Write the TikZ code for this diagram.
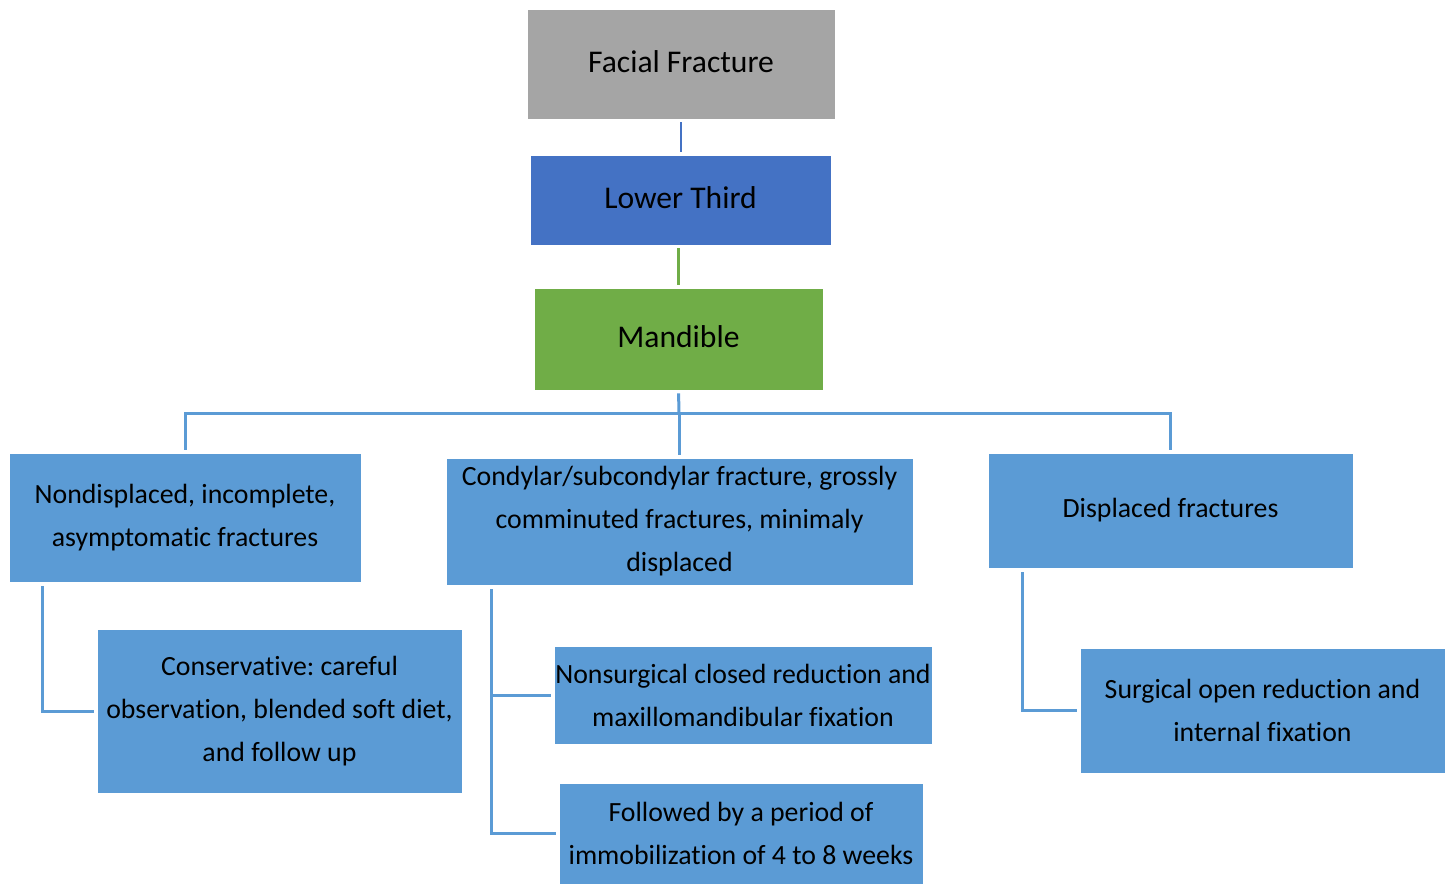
\documentclass[tikz,border=0pt]{standalone}
\usepackage{fontspec}
\setmainfont{Carlito}[Ligatures={NoCommon}]
\frenchspacing
\definecolor{grayfill}{HTML}{A5A5A5}
\definecolor{bluedark}{HTML}{4472C4}
\definecolor{greenfill}{HTML}{70AD47}
\definecolor{bluelight}{HTML}{5B9BD5}
\tikzset{
  box/.style={rectangle, draw=white, line width=0.8pt, inner sep=0pt,
    align=center, text=black},
  topbox/.style={box, font=\fontsize{31.6}{38}\selectfont},
  leafbox/.style={box, fill=bluelight, font=\fontsize{27.8}{43}\selectfont},
  link/.style={line width=2.5pt, shorten <=3pt, shorten >=3pt},
  tree/.style={draw=bluelight, line width=3pt}
}
\newcommand{\lifted}[1]{\raisebox{5pt}{#1}}
\begin{document}
\begin{tikzpicture}[x=1pt, y=-1pt]
\useasboundingbox (0,0) rectangle (1453,884);

% upper chain
\node[topbox, fill=grayfill, minimum width=308pt, minimum height=110pt] (ff) at (681,64) {\lifted{Facial Fracture}};
\node[topbox, fill=bluedark, minimum width=301pt, minimum height=90pt] (lt) at (680.5,200) {\lifted{Lower Third}};
\node[topbox, fill=greenfill, minimum width=289pt, minimum height=102pt] (mand) at (678.5,339) {\lifted{Mandible}};

% fracture categories
\node[leafbox, minimum width=352pt, minimum height=129pt] (nd) at (185,517.5) {Nondisplaced, incomplete,\\asymptomatic fractures};
\node[leafbox, minimum width=467pt, minimum height=127pt] (cd) at (679.5,521.5) {Condylar/subcondylar fracture, grossly\\comminuted fractures, minimaly\\displaced};
\node[leafbox, minimum width=365pt, minimum height=115pt] (dp) at (1170.5,510.5) {Displaced fractures};

% treatments
\node[leafbox, minimum width=365pt, minimum height=164pt] (cons) at (279.5,711) {Conservative: careful\\observation, blended soft diet,\\and follow up};
\node[leafbox, minimum width=378pt, minimum height=98pt] (ns) at (743,695) {Nonsurgical closed reduction and\\maxillomandibular fixation};
\node[leafbox, minimum width=364pt, minimum height=101pt] (fb) at (741,833.5) {Followed by a period of\\immobilization of 4 to 8 weeks};
\node[leafbox, minimum width=365pt, minimum height=125pt] (sg) at (1262.5,710.5) {Surgical open reduction and\\internal fixation};

% chain connectors
\draw[link, draw=bluedark] (ff.south) -- (ff.south |- lt.north);
\draw[link, draw=greenfill] (mand.north |- lt.south) -- (mand.north);

% branching to categories
\coordinate (bus) at (679,413);
\draw[tree, shorten <=3pt] (mand.south) -- (bus);
\draw[tree, shorten <=3pt, shorten >=3pt] (nd.north) |- (bus -| dp.north) -- (dp.north);
\draw[tree, shorten >=3pt] (bus) -- (bus -| cd.north) -- (cd.north);

% branching to treatments
\coordinate (ndstem) at ([xshift=34pt]nd.south west);
\coordinate (cdstem) at ([xshift=46pt]cd.south west);
\coordinate (dpstem) at ([xshift=35pt]dp.south west);
\draw[tree, shorten <=4pt, shorten >=3pt] (ndstem) |- (cons.west);
\draw[tree, shorten <=4pt, shorten >=3pt] (cdstem) |- (ns.west);
\draw[tree, shorten <=4pt, shorten >=3pt] (cdstem) |- (fb.west);
\draw[tree, shorten <=4pt, shorten >=3pt] (dpstem) |- (sg.west);
\end{tikzpicture}
\end{document}
